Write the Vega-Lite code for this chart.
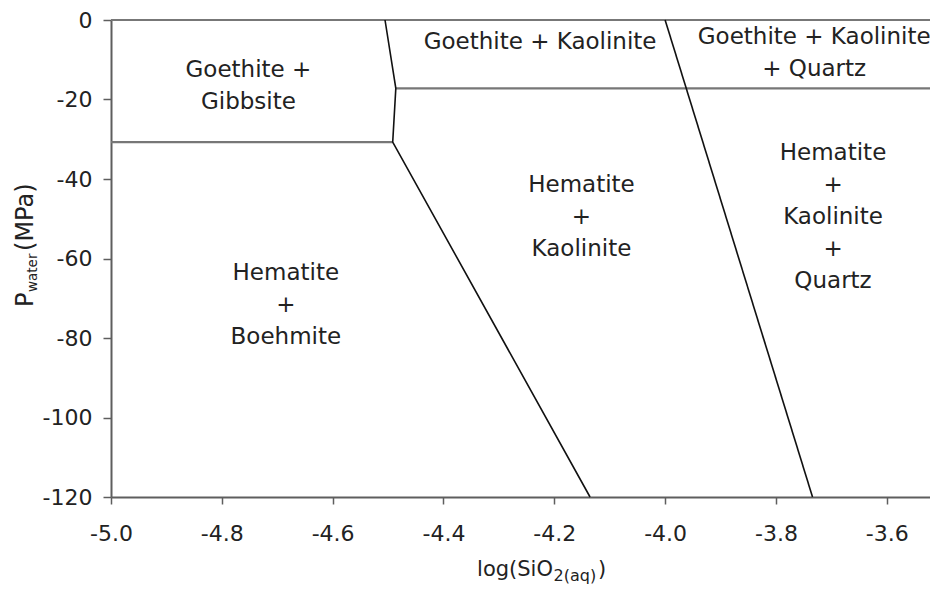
{
  "$schema": "https://vega.github.io/schema/vega-lite/v6.json",
  "width": 819,
  "height": 477,
  "autosize": {"type": "none"},
  "padding": {"left": 111, "top": 20, "right": 0, "bottom": 93},
  "background": "white",
  "config": {
    "view": {"stroke": null},
    "font": "DejaVu Sans",
    "axis": {
      "domainColor": "#5e5e5e",
      "domainWidth": 2,
      "tickColor": "#5e5e5e",
      "tickWidth": 1.5,
      "labelFont": "DejaVu Sans",
      "labelFontSize": 22,
      "labelColor": "#222222",
      "grid": false,
      "labelFlush": false,
      "labelOverlap": false
    }
  },
  "encoding": {
    "x": {
      "field": "x",
      "type": "quantitative",
      "scale": {"domain": [-5, -3.522], "nice": false, "zero": false},
      "axis": {
        "title": null,
        "values": [-5, -4.8, -4.6, -4.4, -4.2, -4, -3.8, -3.6],
        "format": ".1f",
        "labelExpr": "replace(datum.label, '\u2212', '-')",
        "tickSize": 7,
        "labelPadding": 19
      }
    },
    "y": {
      "field": "y",
      "type": "quantitative",
      "scale": {"domain": [-120, 0], "nice": false, "zero": false},
      "axis": {
        "title": null,
        "values": [0, -20, -40, -60, -80, -100, -120],
        "labelExpr": "replace(datum.label, '\u2212', '-')",
        "tickSize": 8,
        "labelPadding": 11
      }
    }
  },
  "layer": [
    {
      "data": {"values": [
        {"x": -5, "x2": -3.522, "y": 0},
        {"x": -5, "x2": -4.4916, "y": -30.7},
        {"x": -4.486, "x2": -3.522, "y": -17.2}
      ]},
      "mark": {"type": "rule", "color": "#777777", "strokeWidth": 2.2},
      "encoding": {"x2": {"field": "x2"}}
    },
    {
      "data": {"values": [
        {"seg": "a", "ord": 1, "x": -4.5055, "y": 0},
        {"seg": "a", "ord": 2, "x": -4.486, "y": -17.2},
        {"seg": "a", "ord": 3, "x": -4.4916, "y": -30.7},
        {"seg": "a", "ord": 4, "x": -4.1355, "y": -120},
        {"seg": "b", "ord": 1, "x": -4.0, "y": 0},
        {"seg": "b", "ord": 2, "x": -3.734, "y": -120}
      ]},
      "mark": {"type": "line", "color": "#111111", "strokeWidth": 1.6},
      "encoding": {
        "detail": {"field": "seg"},
        "order": {"field": "ord", "type": "quantitative"}
      }
    },
    {
      "data": {"values": [
        {"label": "Goethite +\nGibbsite", "x": -4.752, "y": -12.65},
        {"label": "Goethite + Kaolinite", "x": -4.2257, "y": -5.5},
        {"label": "Goethite + Kaolinite\n+ Quartz", "x": -3.731, "y": -4.2},
        {"label": "Hematite\n+\nKaolinite", "x": -4.151, "y": -41.5},
        {"label": "Hematite\n+\nKaolinite\n+\nQuartz", "x": -3.697, "y": -33.5},
        {"label": "Hematite\n+\nBoehmite", "x": -4.6845, "y": -63.7}
      ]},
      "mark": {"type": "text", "lineBreak": "\n", "fontSize": 23, "lineHeight": 32, "align": "center", "baseline": "middle", "color": "#222222", "font": "DejaVu Sans"},
      "encoding": {"text": {"field": "label"}}
    },
    {
      "data": {"values": [
        {"t": "log(SiO", "x": -4.3394, "y": -139.87},
        {"t": ")", "x": -4.121, "y": -139.87}
      ]},
      "mark": {"type": "text", "fontSize": 21, "align": "left", "baseline": "alphabetic", "color": "#222222", "font": "DejaVu Sans"},
      "encoding": {"text": {"field": "t"}}
    },
    {
      "data": {"values": [
        {"t": "2(aq)", "x": -4.2013, "y": -141.13}
      ]},
      "mark": {"type": "text", "fontSize": 16, "align": "left", "baseline": "alphabetic", "color": "#222222", "font": "DejaVu Sans"},
      "encoding": {"text": {"field": "t"}}
    },
    {
      "data": {"values": [
        {"t": "P", "x": -5.1408, "y": -72.2},
        {"t": "(MPa)", "x": -5.1408, "y": -58.11}
      ]},
      "mark": {"type": "text", "fontSize": 24, "angle": 270, "align": "left", "baseline": "alphabetic", "color": "#222222", "font": "DejaVu Sans"},
      "encoding": {"text": {"field": "t"}}
    },
    {
      "data": {"values": [
        {"t": "water", "x": -5.1327, "y": -68.43}
      ]},
      "mark": {"type": "text", "fontSize": 13.5, "angle": 270, "align": "left", "baseline": "alphabetic", "color": "#222222", "font": "DejaVu Sans"},
      "encoding": {"text": {"field": "t"}}
    }
  ]
}
